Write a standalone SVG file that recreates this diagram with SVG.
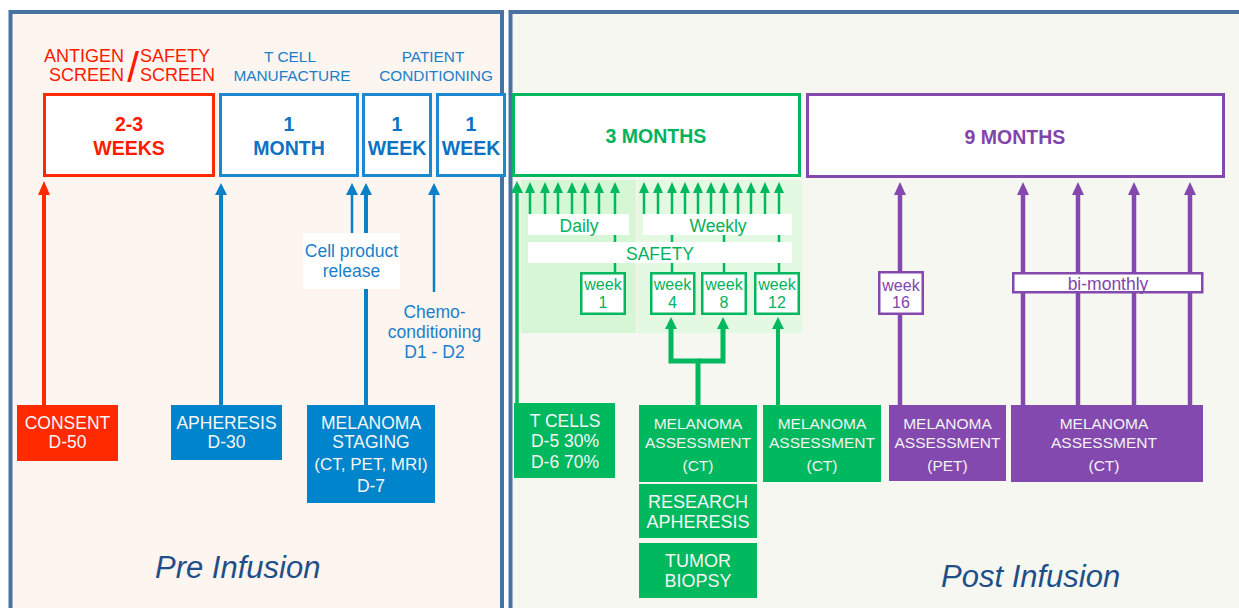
<svg xmlns="http://www.w3.org/2000/svg" width="1239" height="608" viewBox="0 0 1239 608">
<style>
text{font-family:"Liberation Sans",Arial,sans-serif;text-anchor:middle}
.hb{font-size:15.4px;fill:#1a7fcb}
.hr{font-size:18px;fill:#ff1a00;text-anchor:start}
.big{font-size:19.5px;font-weight:bold}
.lb{font-size:17.5px;fill:#1a7fcb}
.wt{font-size:17.5px;fill:#f6f6f6}
.wm{font-size:15.5px;fill:#f3f3f3}
.wl{font-size:18px;fill:#f6f6f6}
.gt{font-size:17.5px;fill:#00b35a}
.pt{font-size:17.5px;fill:#7f45ab}
.wk{font-size:16px}
.inf{font-size:31px;font-style:italic;fill:#1f4f88;text-anchor:start}
.topbox{fill:#fff;stroke-width:3}
.gbox{fill:#fff;stroke:#00b85e;stroke-width:2.5}
.pbox{fill:#fff;stroke:#8449ae;stroke-width:2.5}
.lab{fill:#fff}
.cr{fill:#ff2a00}.cb{fill:#0084cb}.cg{fill:#00b85e}.cp{fill:#8449ae}
.ln{fill:none}
</style>
<defs>
<marker id="aR" markerUnits="userSpaceOnUse" markerWidth="15" markerHeight="12" refX="0" refY="6" orient="auto"><path d="M0,0 L14,6 L0,12 z" fill="#ff2a00"/></marker>
<marker id="aB" markerUnits="userSpaceOnUse" markerWidth="13" markerHeight="12" refX="0" refY="6" orient="auto"><path d="M0,0 L12,6 L0,12 z" fill="#0a80c8"/></marker>
<marker id="aG" markerUnits="userSpaceOnUse" markerWidth="12" markerHeight="10" refX="0" refY="5" orient="auto"><path d="M0,0 L11,5 L0,10 z" fill="#00b85e"/></marker>
<marker id="aG2" markerUnits="userSpaceOnUse" markerWidth="13" markerHeight="12" refX="0" refY="6" orient="auto"><path d="M0,0 L12,6 L0,12 z" fill="#00b85e"/></marker>
<marker id="aP" markerUnits="userSpaceOnUse" markerWidth="14" markerHeight="12" refX="0" refY="6" orient="auto"><path d="M0,0 L13,6 L0,12 z" fill="#8449ae"/></marker>
</defs>

<g id="panels">
<rect x="10.5" y="12" width="491.5" height="620" fill="#fdf5f0" stroke="#4a72a0" stroke-width="4"/>
<rect x="510.5" y="12" width="750" height="620" fill="#f7f7f2" stroke="#4a72a0" stroke-width="4"/>
<rect x="521" y="180" width="115" height="153" fill="#d6f7d6"/>
<rect x="637" y="180" width="165" height="153" fill="#e4f9e2"/>
</g>

<g id="connectors" class="ln">
<line x1="44" y1="405" x2="44" y2="195" stroke="#ff2a00" stroke-width="4" marker-end="url(#aR)"/>
<line x1="221" y1="405" x2="221" y2="195" stroke="#0a80c8" stroke-width="4" marker-end="url(#aB)"/>
<line x1="352" y1="234" x2="352" y2="195" stroke="#0a80c8" stroke-width="2.5" marker-end="url(#aB)"/>
<line x1="366" y1="405" x2="366" y2="195" stroke="#0a80c8" stroke-width="4" marker-end="url(#aB)"/>
<line x1="434" y1="292" x2="434" y2="195" stroke="#0a80c8" stroke-width="2.5" marker-end="url(#aB)"/>
<line x1="517" y1="403" x2="517" y2="193" stroke="#00b85e" stroke-width="3.5" marker-end="url(#aG2)"/>
<g stroke="#00b85e" stroke-width="2.5">
<line x1="530" y1="215" x2="530" y2="193" marker-end="url(#aG)"/>
<line x1="545" y1="215" x2="545" y2="193" marker-end="url(#aG)"/>
<line x1="558" y1="215" x2="558" y2="193" marker-end="url(#aG)"/>
<line x1="572" y1="215" x2="572" y2="193" marker-end="url(#aG)"/>
<line x1="585" y1="215" x2="585" y2="193" marker-end="url(#aG)"/>
<line x1="599" y1="215" x2="599" y2="193" marker-end="url(#aG)"/>
<line x1="615" y1="273" x2="615" y2="193" marker-end="url(#aG)"/>
<line x1="644" y1="215" x2="644" y2="193" marker-end="url(#aG)"/>
<line x1="658" y1="215" x2="658" y2="193" marker-end="url(#aG)"/>
<line x1="672" y1="273" x2="672" y2="193" marker-end="url(#aG)"/>
<line x1="685" y1="215" x2="685" y2="193" marker-end="url(#aG)"/>
<line x1="698" y1="215" x2="698" y2="193" marker-end="url(#aG)"/>
<line x1="711" y1="215" x2="711" y2="193" marker-end="url(#aG)"/>
<line x1="724" y1="273" x2="724" y2="193" marker-end="url(#aG)"/>
<line x1="738" y1="215" x2="738" y2="193" marker-end="url(#aG)"/>
<line x1="751" y1="215" x2="751" y2="193" marker-end="url(#aG)"/>
<line x1="765" y1="215" x2="765" y2="193" marker-end="url(#aG)"/>
<line x1="779" y1="273" x2="779" y2="193" marker-end="url(#aG)"/>
</g>
<path d="M698,405 V361 H671 V329" stroke="#00b85e" stroke-width="5" marker-end="url(#aG2)"/>
<path d="M698,361 H723 V329" stroke="#00b85e" stroke-width="5" marker-end="url(#aG2)"/>
<line x1="778" y1="405" x2="778" y2="329" stroke="#00b85e" stroke-width="4" marker-end="url(#aG2)"/>
<g stroke="#8449ae" stroke-width="4.5">
<line x1="900" y1="405" x2="900" y2="195" marker-end="url(#aP)"/>
<line x1="1023" y1="405" x2="1023" y2="195" marker-end="url(#aP)"/>
<line x1="1078" y1="405" x2="1078" y2="195" marker-end="url(#aP)"/>
<line x1="1134" y1="405" x2="1134" y2="195" marker-end="url(#aP)"/>
<line x1="1190" y1="405" x2="1190" y2="195" marker-end="url(#aP)"/>
</g>
</g>

<g id="headers">
<text class="hr" x="44" y="62">ANTIGEN</text>
<text class="hr" x="49" y="81">SCREEN</text>
<text class="hr" x="133" y="82" style="font-size:42px;text-anchor:middle">/</text>
<text class="hr" x="140" y="62">SAFETY</text>
<text class="hr" x="140" y="81">SCREEN</text>
<text class="hb" x="290" y="62">T CELL</text>
<text class="hb" x="292" y="81">MANUFACTURE</text>
<text class="hb" x="433" y="62">PATIENT</text>
<text class="hb" x="436" y="81">CONDITIONING</text>
</g>

<g id="box-2-3-weeks">
<rect class="topbox" x="44.5" y="94.5" width="169" height="81" stroke="#ff2a00"/>
<text class="big" x="129" y="131" fill="#ff1a00">2-3</text>
<text class="big" x="129" y="155" fill="#ff1a00">WEEKS</text>
</g>
<g id="box-1-month">
<rect class="topbox" x="220.5" y="94.5" width="137" height="81" stroke="#1b88d0"/>
<text class="big" x="289" y="131" fill="#0e72c2">1</text>
<text class="big" x="289" y="155" fill="#0e72c2">MONTH</text>
</g>
<g id="box-1-week-a">
<rect class="topbox" x="363.5" y="94.5" width="67" height="81" stroke="#1b88d0"/>
<text class="big" x="397" y="131" fill="#0e72c2">1</text>
<text class="big" x="397" y="155" fill="#0e72c2">WEEK</text>
</g>
<g id="box-1-week-b">
<rect class="topbox" x="437.5" y="94.5" width="67" height="81" stroke="#1b88d0"/>
<text class="big" x="471" y="131" fill="#0e72c2">1</text>
<text class="big" x="471" y="155" fill="#0e72c2">WEEK</text>
</g>
<g id="box-3-months">
<rect class="topbox" x="513.5" y="94.5" width="286" height="81" stroke="#00b85e"/>
<text class="big" x="656" y="143" fill="#00b35a">3 MONTHS</text>
</g>
<g id="box-9-months">
<rect class="topbox" x="807.5" y="94.5" width="416" height="82" stroke="#8449ae"/>
<text class="big" x="1015" y="144" fill="#7f45ab">9 MONTHS</text>
</g>

<g id="label-cell-product">
<rect class="lab" x="303" y="233" width="97" height="56"/>
<text class="lb" x="351.5" y="257">Cell product</text>
<text class="lb" x="351.5" y="277">release</text>
</g>
<g id="label-chemo">
<text class="lb" x="434.5" y="318">Chemo-</text>
<text class="lb" x="434.5" y="338">conditioning</text>
<text class="lb" x="434.5" y="358">D1 - D2</text>
</g>

<g id="consent">
<rect class="cr" x="17" y="405" width="101" height="56"/>
<text class="wt" x="67.5" y="429">CONSENT</text>
<text class="wt" x="67.5" y="448">D-50</text>
</g>
<g id="apheresis">
<rect class="cb" x="171" y="405" width="111" height="55"/>
<text class="wt" x="226.5" y="429">APHERESIS</text>
<text class="wt" x="226.5" y="448">D-30</text>
</g>
<g id="melanoma-staging">
<rect class="cb" x="307" y="405" width="128" height="98"/>
<text class="wt" x="371" y="429">MELANOMA</text>
<text class="wt" x="371" y="448">STAGING</text>
<text class="wt" x="371" y="470" style="font-size:17px">(CT, PET, MRI)</text>
<text class="wt" x="371" y="492">D-7</text>
</g>

<g id="label-daily">
<rect class="lab" x="528" y="214" width="101" height="21"/>
<text class="gt" x="579" y="232">Daily</text>
</g>
<g id="label-weekly">
<rect class="lab" x="643" y="214" width="149" height="21"/>
<text class="gt" x="718" y="232">Weekly</text>
</g>
<g id="label-safety">
<rect class="lab" x="528" y="242" width="264" height="21"/>
<text class="gt" x="660" y="260">SAFETY</text>
</g>
<g id="week-1">
<rect class="gbox" x="581.25" y="273.25" width="43.5" height="40.5"/>
<text class="gt wk" x="603" y="290">week</text>
<text class="gt wk" x="603" y="308">1</text>
</g>
<g id="week-4">
<rect class="gbox" x="651.25" y="273.25" width="43" height="40.5"/>
<text class="gt wk" x="672.5" y="290">week</text>
<text class="gt wk" x="672.5" y="308">4</text>
</g>
<g id="week-8">
<rect class="gbox" x="702.25" y="273.25" width="43.5" height="40.5"/>
<text class="gt wk" x="724" y="290">week</text>
<text class="gt wk" x="724" y="308">8</text>
</g>
<g id="week-12">
<rect class="gbox" x="755.25" y="273.25" width="43.5" height="40.5"/>
<text class="gt wk" x="777" y="290">week</text>
<text class="gt wk" x="777" y="308">12</text>
</g>

<g id="t-cells">
<rect class="cg" x="514" y="403" width="101" height="75"/>
<text class="wt" x="565" y="427">T CELLS</text>
<text class="wt" x="565" y="447">D-5 30%</text>
<text class="wt" x="565" y="468">D-6 70%</text>
</g>
<g id="melanoma-assessment-ct-1">
<rect class="cg" x="639" y="405" width="118" height="77"/>
<text class="wm" x="698" y="429">MELANOMA</text>
<text class="wm" x="698" y="448">ASSESSMENT</text>
<text class="wm" x="698" y="471">(CT)</text>
</g>
<g id="research-apheresis">
<rect class="cg" x="639" y="484" width="118" height="54"/>
<text class="wl" x="698" y="508">RESEARCH</text>
<text class="wl" x="698" y="528">APHERESIS</text>
</g>
<g id="tumor-biopsy">
<rect class="cg" x="639" y="543" width="118" height="55"/>
<text class="wl" x="698" y="567">TUMOR</text>
<text class="wl" x="698" y="587">BIOPSY</text>
</g>
<g id="melanoma-assessment-ct-2">
<rect class="cg" x="763" y="405" width="118" height="77"/>
<text class="wm" x="822" y="429">MELANOMA</text>
<text class="wm" x="822" y="448">ASSESSMENT</text>
<text class="wm" x="822" y="471">(CT)</text>
</g>

<g id="week-16">
<rect class="pbox" x="879.25" y="272.25" width="43.5" height="41.5"/>
<text class="pt wk" x="901" y="291">week</text>
<text class="pt wk" x="901" y="308">16</text>
</g>
<g id="bi-monthly">
<rect class="pbox" x="1013.25" y="273.25" width="189" height="19"/>
<text class="pt" x="1108" y="290">bi-monthly</text>
</g>
<g id="melanoma-assessment-pet">
<rect class="cp" x="889" y="405" width="117" height="76"/>
<text class="wm" x="947.5" y="429">MELANOMA</text>
<text class="wm" x="947.5" y="448">ASSESSMENT</text>
<text class="wm" x="947.5" y="471">(PET)</text>
</g>
<g id="melanoma-assessment-ct-3">
<rect class="cp" x="1011" y="405" width="192" height="77"/>
<text class="wm" x="1104" y="429">MELANOMA</text>
<text class="wm" x="1104" y="448">ASSESSMENT</text>
<text class="wm" x="1104" y="471">(CT)</text>
</g>

<g id="phase-labels">
<text class="inf" x="155" y="578">Pre Infusion</text>
<text class="inf" x="941" y="587">Post Infusion</text>
</g>
</svg>
